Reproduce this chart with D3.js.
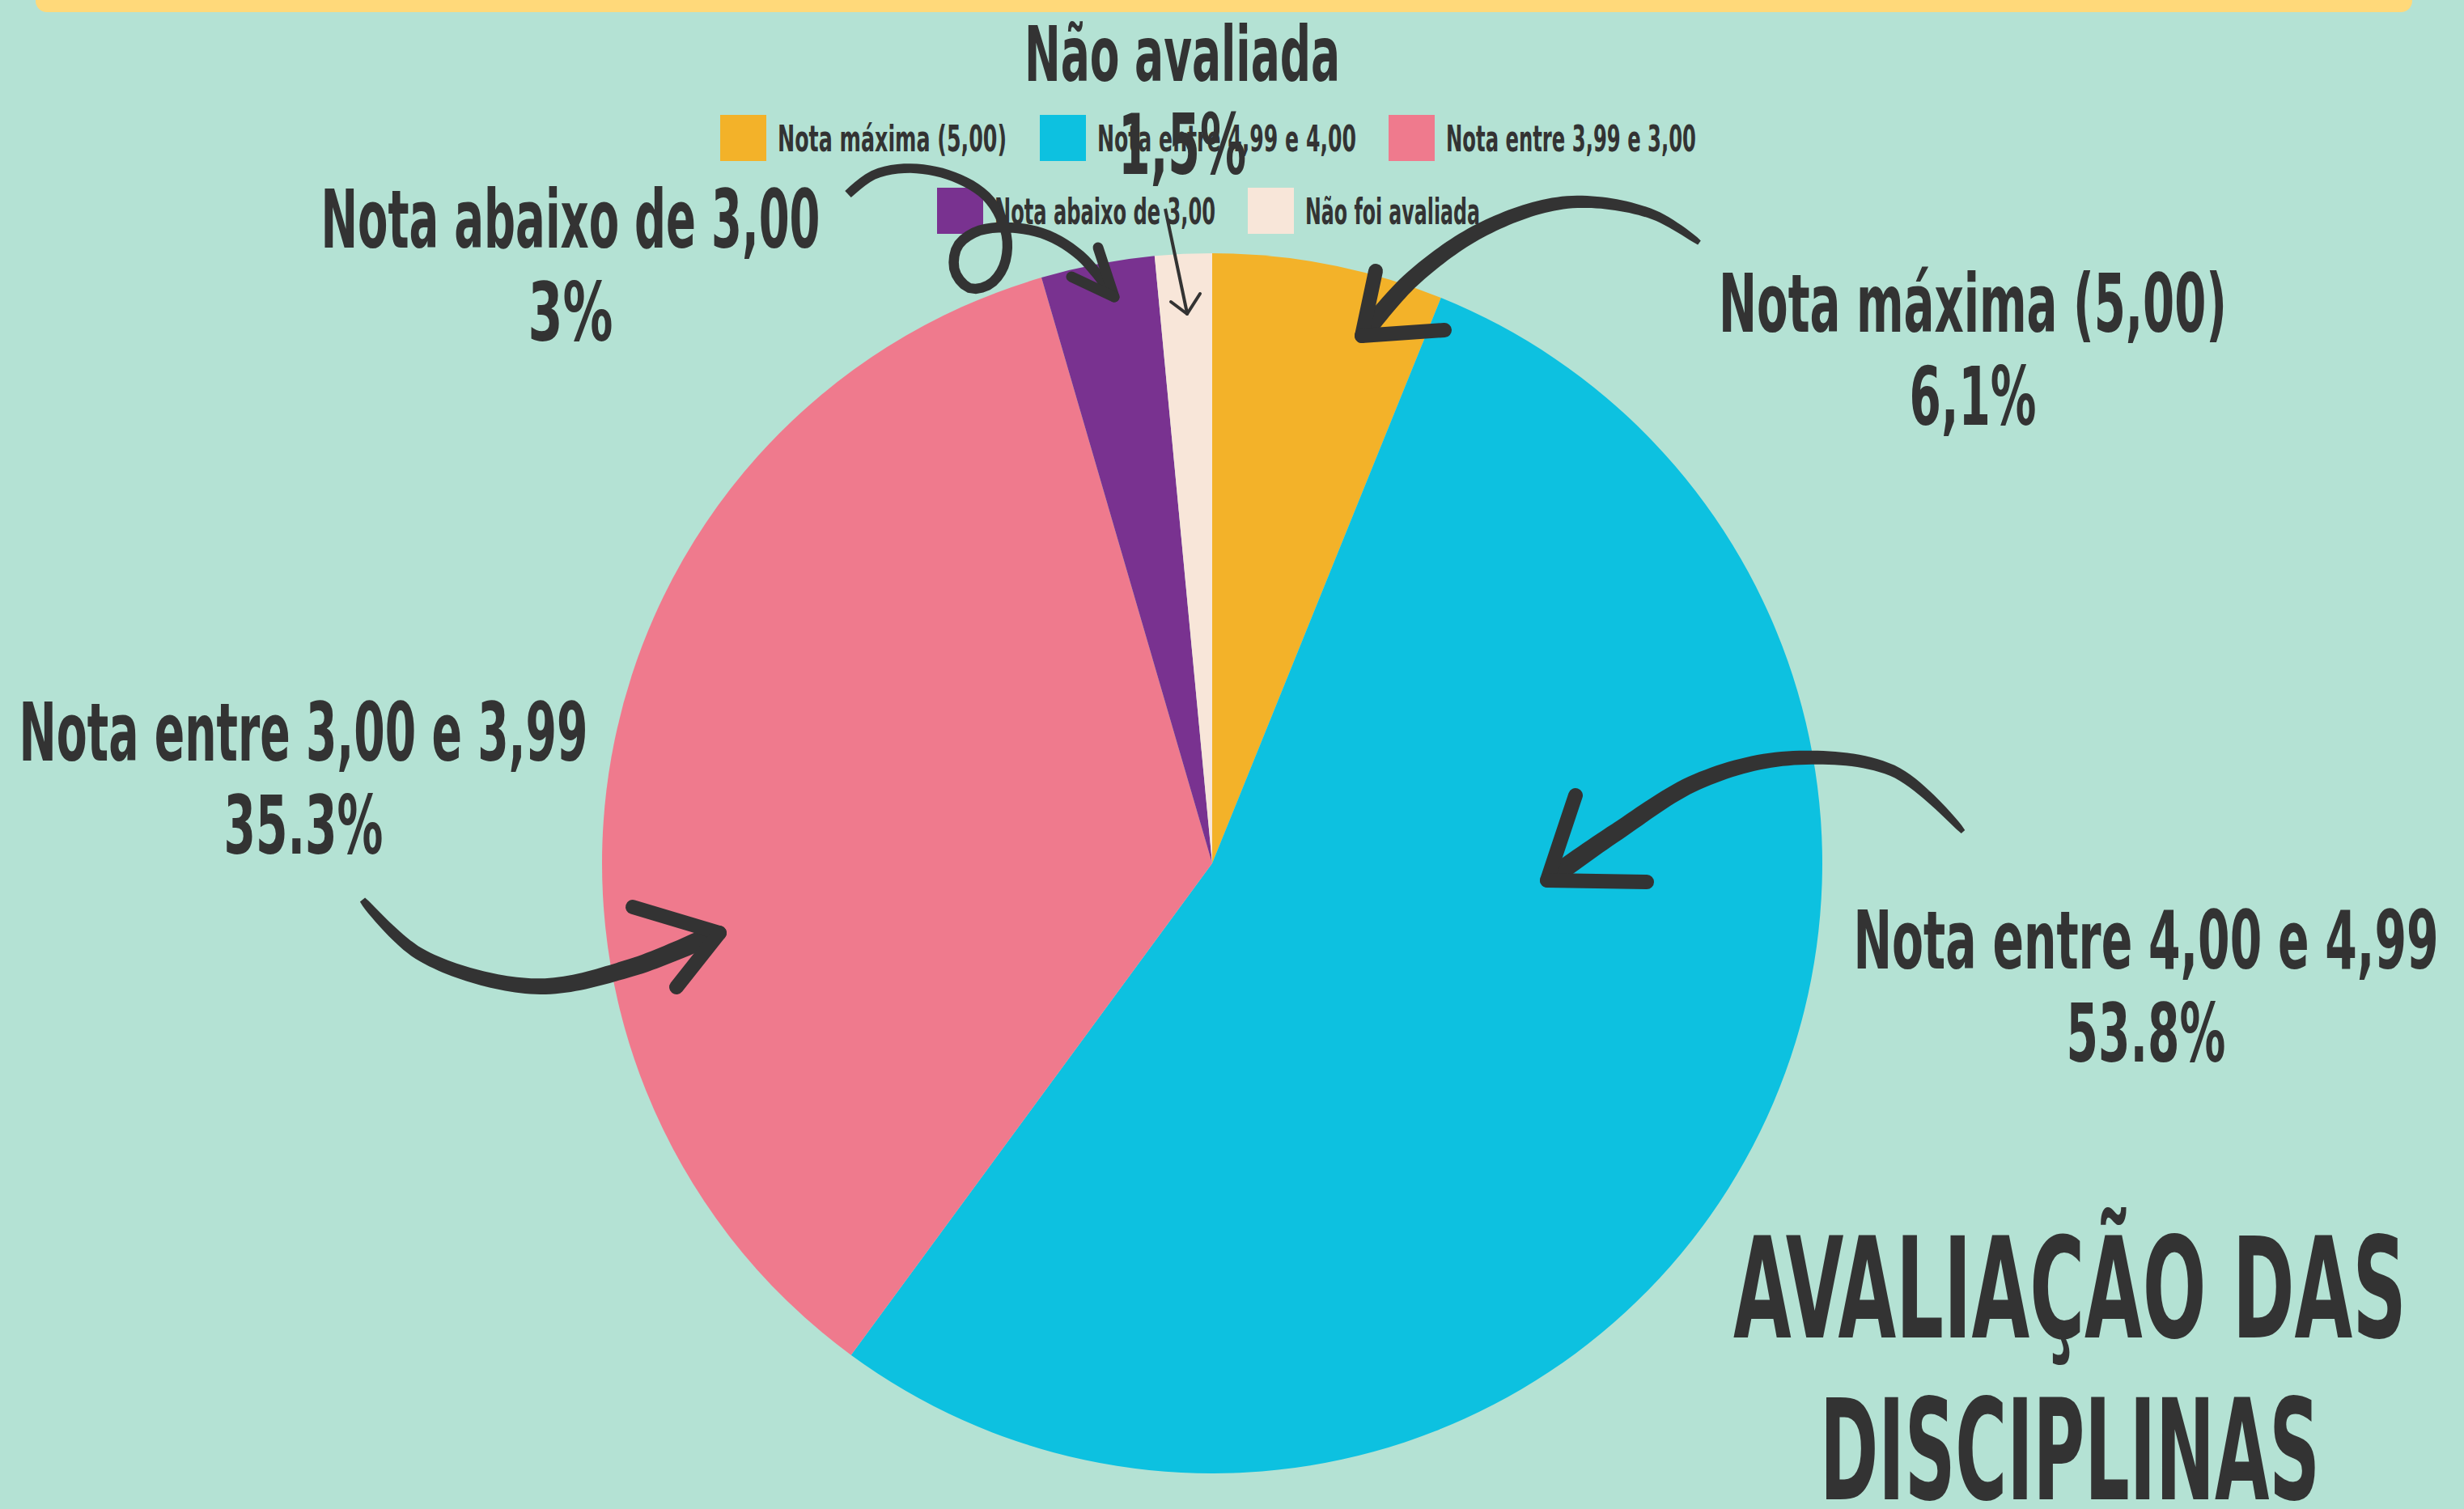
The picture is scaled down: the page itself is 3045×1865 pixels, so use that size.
<!DOCTYPE html>
<html>
<head>
<meta charset="utf-8">
<script src="https://cdn.jsdelivr.net/npm/d3@7"></script>
<style>
  html, body { margin: 0; padding: 0; background: #b4e2d4; }
  svg { display: block; }
  text { font-family: "Liberation Sans Narrow", "DejaVu Sans Condensed", sans-serif; font-weight: bold; fill: #333333; }
</style>
</head>
<body>
<svg id="chart"></svg>
<script>
// data
const categories = ["Nota máxima (5,00)", "Nota entre 4,00 e 4,99", "Nota entre 3,00 e 3,99", "Nota abaixo de 3,00", "Não avaliada"];
const legendLabels = ["Nota máxima (5,00)", "Nota entre 4,99 e 4,00", "Nota entre 3,99 e 3,00", "Nota abaixo de 3,00", "Não foi avaliada"];
const values = [6.1, 53.8, 35.3, 3, 1.5];
const valueLabels = ["6,1%", "53.8%", "35.3%", "3%", "1,5%"];
const colors = ["#f3b229", "#0dc1e0", "#ef7a8d", "#793290", "#f8e6d9"];
const titleLines = ["AVALIAÇÃO DAS", "DISCIPLINAS"];

const width = 3045;
const height = 1865;
const center = { x: 1498, y: 1067 };
const radius = 754;

const svg = d3.select("#chart").attr("width", width).attr("height", height);

svg.append("rect").attr("width", width).attr("height", height).attr("fill", "#b4e2d4");

// yellow band on top
svg.append("rect")
  .attr("x", 44).attr("y", -30)
  .attr("width", 2937).attr("height", 45)
  .attr("rx", 14)
  .attr("fill", "#ffd97a");

// pie
const pie = d3.pie().sort(null).value((d) => d.value);
const arc = d3.arc().innerRadius(0).outerRadius(radius);
const slices = pie(categories.map((c, i) => ({ name: c, value: values[i] })));

svg.append("g")
  .attr("transform", `translate(${center.x},${center.y})`)
  .selectAll("path")
  .data(slices)
  .join("path")
  .attr("d", arc)
  .attr("fill", (d, i) => colors[i]);

// labels next to the pie (name + value)
const labelPos = [
  { x: 2438, y: 410, w: 628, vw: 157 },
  { x: 2652, y: 1197, w: 723, vw: 197 },
  { x: 375, y: 940, w: 703, vw: 197 },
  { x: 705, y: 306, w: 617, vw: 105 },
  { x: 1461, y: 100, w: 390, vw: 158, size: 94, vdy: 115 }
];

const labels = svg.append("g").selectAll("g")
  .data(categories)
  .join("g");

labels.append("text")
  .attr("x", (d, i) => labelPos[i].x)
  .attr("y", (d, i) => labelPos[i].y)
  .attr("text-anchor", "middle")
  .attr("font-size", (d, i) => labelPos[i].size || 100)
  .attr("textLength", (d, i) => labelPos[i].w)
  .attr("lengthAdjust", "spacingAndGlyphs")
  .text((d) => d);

labels.append("text")
  .attr("x", (d, i) => labelPos[i].x)
  .attr("y", (d, i) => labelPos[i].y + (labelPos[i].vdy || 115))
  .attr("text-anchor", "middle")
  .attr("font-size", (d, i) => (i === 4 ? 103 : 100))
  .attr("textLength", (d, i) => labelPos[i].vw)
  .attr("lengthAdjust", "spacingAndGlyphs")
  .text((d, i) => valueLabels[i]);

// legend
const legendPos = [
  { x: 890, y: 142, w: 283 },
  { x: 1285, y: 142, w: 320 },
  { x: 1716, y: 142, w: 309 },
  { x: 1158, y: 232, w: 273 },
  { x: 1542, y: 232, w: 216 }
];

const legend = svg.append("g").selectAll("g")
  .data(legendLabels)
  .join("g")
  .attr("transform", (d, i) => `translate(${legendPos[i].x},${legendPos[i].y})`);

legend.append("rect")
  .attr("width", 57).attr("height", 57)
  .attr("fill", (d, i) => colors[i]);

legend.append("text")
  .attr("x", 71)
  .attr("y", 45)
  .attr("font-size", 44)
  .attr("textLength", (d, i) => legendPos[i].w)
  .attr("lengthAdjust", "spacingAndGlyphs")
  .text((d) => d);

// arrows (brush strokes)
const ink = "#333333";
const arrowLayer = svg.append("g");

function brush(points, w0, w1) {
  const tmp = arrowLayer.append("path")
    .attr("d", d3.line().curve(d3.curveCatmullRom)(points))
    .attr("fill", "none");
  const node = tmp.node();
  const L = node.getTotalLength();
  const n = 80;
  const left = [];
  const right = [];
  for (let i = 0; i <= n; i++) {
    const t = i / n;
    const p = node.getPointAtLength(t * L);
    const a = node.getPointAtLength(Math.max(0, t * L - 1));
    const b = node.getPointAtLength(Math.min(L, t * L + 1));
    const dx = b.x - a.x;
    const dy = b.y - a.y;
    const len = Math.hypot(dx, dy) || 1;
    const nx = -dy / len;
    const ny = dx / len;
    const w = (w0 + (w1 - w0) * Math.sqrt(t)) / 2;
    left.push([p.x + nx * w, p.y + ny * w]);
    right.push([p.x - nx * w, p.y - ny * w]);
  }
  tmp.remove();
  arrowLayer.append("path")
    .attr("d", d3.line()(left.concat(right.reverse())) + "Z")
    .attr("fill", ink);
}

function barbs(tip, ends, w) {
  ends.forEach((e) => {
    arrowLayer.append("path")
      .attr("d", d3.line()([e, tip]))
      .attr("stroke", ink)
      .attr("stroke-width", w)
      .attr("stroke-linecap", "round")
      .attr("fill", "none");
  });
}

// to "Nota máxima"
brush([[2100, 300], [2040, 264], [1938, 250], [1835, 282], [1745, 345], [1686, 412]], 6, 22);
barbs([1683, 415], [[1700, 335], [1785, 408]], 18);

// to "Nota entre 4,00 e 4,99"
brush([[2426, 1028], [2340, 953], [2214, 937], [2100, 965], [1995, 1030], [1915, 1086]], 6, 24);
barbs([1912, 1088], [[1947, 983], [2035, 1090]], 18);

// to "Nota entre 3,00 e 3,99"
brush([[448, 1112], [520, 1180], [660, 1219], [780, 1196], [886, 1153]], 8, 24);
barbs([889, 1153], [[782, 1121], [836, 1220]], 18);

// loop to "Nota abaixo de 3,00"
brush([[1048, 240], [1080, 216], [1125, 208], [1180, 219], [1222, 246], [1244, 292], [1240, 330], [1222, 352], [1198, 356], [1180, 335], [1183, 305], [1205, 287], [1240, 281], [1290, 289], [1335, 316], [1375, 364]], 11, 13);
barbs([1377, 367], [[1357, 306], [1324, 342]], 13);

// thin arrow to "Não avaliada"
arrowLayer.append("path")
  .attr("d", d3.line()([[1440, 258], [1467, 387]]))
  .attr("stroke", ink).attr("stroke-width", 4).attr("fill", "none");
barbs([1467, 388], [[1447, 373], [1483, 363]], 4);

// title
svg.append("g").selectAll("text")
  .data(titleLines)
  .join("text")
  .attr("x", 2558)
  .attr("y", (d, i) => 1653 + i * 200)
  .attr("text-anchor", "middle")
  .attr("font-size", 173)
  .attr("textLength", (d, i) => (i === 0 ? 832 : 618))
  .attr("lengthAdjust", "spacingAndGlyphs")
  .text((d) => d);
</script>
</body>
</html>
